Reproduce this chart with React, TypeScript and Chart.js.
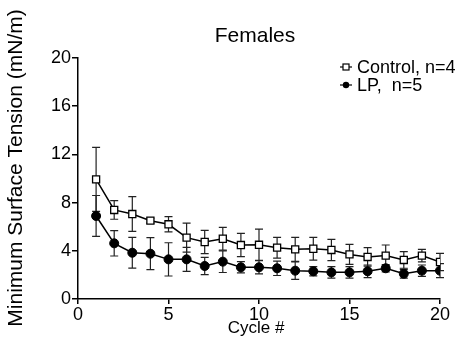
import React, { useEffect, useRef } from "react";
import { Chart, registerables } from "chart.js";

Chart.register(...registerables);

const cycles = [1, 2, 3, 4, 5, 6, 7, 8, 9, 10, 11, 12, 13, 14, 15, 16, 17, 18, 19, 20];
const controlMean = [9.93, 7.39, 7.05, 6.5, 6.2, 5.09, 4.73, 5.0, 4.48, 4.5, 4.26, 4.12, 4.17, 4.07, 3.7, 3.49, 3.6, 3.24, 3.6, 3.07];
const controlErr = [2.66, 0.77, 1.44, 0.2, 0.63, 1.2, 0.97, 0.95, 0.97, 1.3, 0.86, 1.0, 0.95, 0.88, 0.83, 0.77, 0.88, 0.69, 0.52, 0.72];
const lpMean = [6.89, 4.62, 3.84, 3.76, 3.29, 3.29, 2.74, 3.1, 2.63, 2.63, 2.55, 2.35, 2.3, 2.21, 2.21, 2.3, 2.55, 2.1, 2.35, 2.35];
const lpErr = [1.7, 1.05, 1.28, 1.33, 1.38, 1.0, 0.72, 0.9, 0.47, 0.55, 0.6, 0.72, 0.38, 0.47, 0.47, 0.52, 0.3, 0.36, 0.47, 0.58];
const xTicks = [0, 5, 10, 15, 20];
const yTicks = [0, 4, 8, 12, 16, 20];
const titleText = "Females";
const xTitle = "Cycle #";
const yTitle = "Minimum Surface Tension (mN/m)";
const legendLabels = ["Control, n=4", "LP,  n=5"];

const FONT = "'Liberation Sans', Arial, sans-serif";

const errors = [controlErr, lpErr];

const errorBarPlugin = {
  id: "errorBars",
  beforeDatasetsDraw(chart: any) {
    const ctx = chart.ctx;
    const xs = chart.scales.x;
    const ys = chart.scales.y;
    ctx.save();
    ctx.strokeStyle = "#222";
    ctx.lineWidth = 1.2;
    chart.data.datasets.forEach((ds: any, di: number) => {
      const errs = errors[di];
      ds.data.forEach((p: any, i: number) => {
        const x = xs.getPixelForValue(p.x);
        const yt = ys.getPixelForValue(p.y + errs[i]);
        const yb = ys.getPixelForValue(p.y - errs[i]);
        ctx.beginPath();
        ctx.moveTo(x, yt);
        ctx.lineTo(x, yb);
        ctx.moveTo(x - 4, yt);
        ctx.lineTo(x + 4, yt);
        ctx.moveTo(x - 4, yb);
        ctx.lineTo(x + 4, yb);
        ctx.stroke();
      });
    });
    ctx.restore();
  },
};

const textPlugin = {
  id: "texts",
  afterDraw(chart: any) {
    const ctx = chart.ctx;
    ctx.save();
    ctx.fillStyle = "#000";
    // title
    ctx.font = `21px ${FONT}`;
    ctx.textAlign = "center";
    ctx.textBaseline = "middle";
    ctx.fillText(titleText, 255, 36);
    // x title
    ctx.font = `17px ${FONT}`;
    ctx.fillText(xTitle, 256, 328);
    // y title
    ctx.save();
    ctx.translate(16, 168);
    ctx.rotate(-Math.PI / 2);
    ctx.font = `21px ${FONT}`;
    ctx.fillText(yTitle, 0, 0);
    ctx.restore();
    // legend
    ctx.font = `18px ${FONT}`;
    ctx.textAlign = "left";
    const rows = [67, 85];
    rows.forEach((y, i) => {
      ctx.strokeStyle = "#000";
      ctx.lineWidth = 1.2;
      ctx.beginPath();
      ctx.moveTo(340, y);
      ctx.lineTo(352, y);
      ctx.stroke();
      if (i === 0) {
        ctx.fillStyle = "#fff";
        ctx.fillRect(343, y - 3, 6, 6);
        ctx.strokeRect(343, y - 3, 6, 6);
      } else {
        ctx.fillStyle = "#000";
        ctx.beginPath();
        ctx.arc(346, y, 3.2, 0, Math.PI * 2);
        ctx.fill();
      }
      ctx.fillStyle = "#000";
      ctx.fillText(legendLabels[i], 357, y + 1);
    });
    ctx.restore();
  },
};

export default function App() {
  const ref = useRef<HTMLCanvasElement>(null);
  useEffect(() => {
    if (!ref.current) return;
    const chart = new Chart(ref.current, {
      type: "line",
      data: {
        datasets: [
          {
            label: legendLabels[0],
            data: cycles.map((c, i) => ({ x: c, y: controlMean[i] })),
            borderColor: "#000",
            borderWidth: 1.5,
            pointStyle: "rect",
            pointRadius: 5,
            pointBackgroundColor: "#fff",
            pointBorderColor: "#000",
            pointBorderWidth: 1.3,
            tension: 0,
          },
          {
            label: legendLabels[1],
            data: cycles.map((c, i) => ({ x: c, y: lpMean[i] })),
            borderColor: "#000",
            borderWidth: 1.5,
            pointStyle: "circle",
            pointRadius: 4.5,
            pointBackgroundColor: "#000",
            pointBorderColor: "#000",
            pointBorderWidth: 1,
            tension: 0,
          },
        ],
      },
      options: {
        animation: false,
        responsive: true,
        maintainAspectRatio: false,
        layout: { padding: { top: 58, right: 29, left: 0, bottom: 0 } },
        plugins: { legend: { display: false }, tooltip: { enabled: false }, title: { display: false } },
        scales: {
          x: {
            type: "linear",
            min: 0,
            max: 20,
            afterFit: (s: any) => { s.height = 49; },
            afterBuildTicks: (s: any) => { s.ticks = xTicks.map((v) => ({ value: v })); },
            ticks: { color: "#000", font: { family: FONT, size: 18 }, padding: 0, maxRotation: 0 },
            grid: { display: true, drawOnChartArea: false, drawTicks: true, tickLength: 5, color: "#000", lineWidth: 1.5 },
            border: { display: true, color: "#000", width: 1.5 },
          },
          y: {
            type: "linear",
            min: 0,
            max: 20,
            afterFit: (s: any) => { s.width = 78; },
            afterBuildTicks: (s: any) => { s.ticks = yTicks.map((v) => ({ value: v })); },
            ticks: { color: "#000", font: { family: FONT, size: 18 }, padding: 1 },
            grid: { display: true, drawOnChartArea: false, drawTicks: true, tickLength: 6, color: "#000", lineWidth: 1.5 },
            border: { display: true, color: "#000", width: 1.5 },
          },
        },
      },
      plugins: [errorBarPlugin, textPlugin],
    });
    return () => chart.destroy();
  }, []);
  return (
    <div style={{ position: "fixed", left: 0, top: 0, width: 469, height: 348, background: "#fff" }}>
      <canvas ref={ref} />
    </div>
  );
}
